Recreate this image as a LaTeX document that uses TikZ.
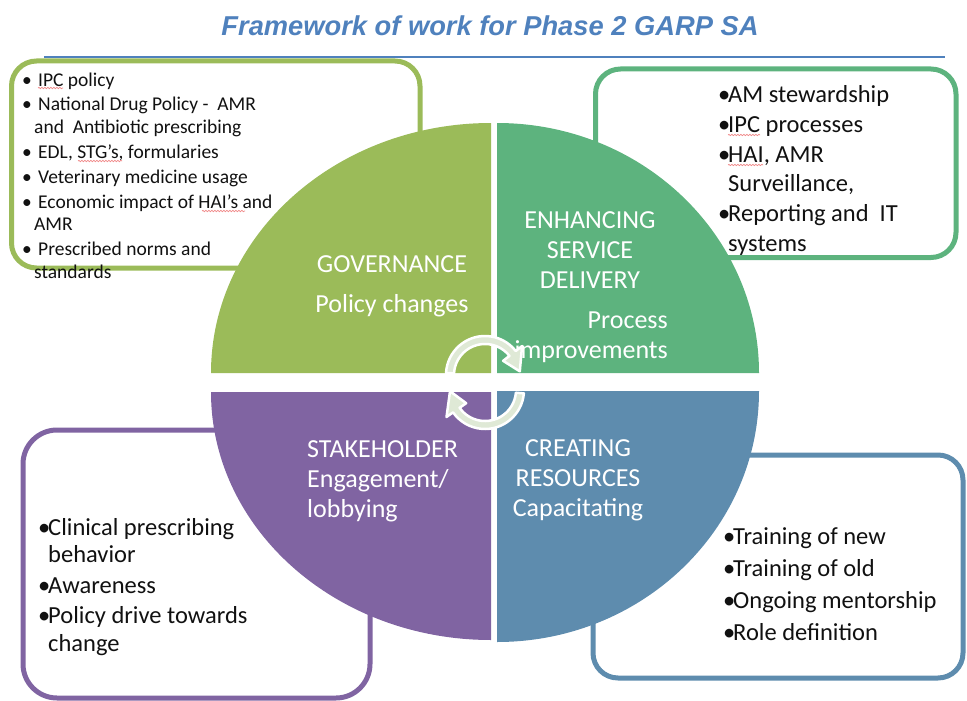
\documentclass[tikz,border=0pt]{standalone}
\usepackage{fontspec}
\setmainfont{Carlito}
\newfontfamily\titlefont{Liberation Sans}
\usetikzlibrary{calc,decorations.pathmorphing}
\definecolor{govgreen}{HTML}{9BBB59}
\definecolor{servgreen}{HTML}{5DB37E}
\definecolor{stakepurple}{HTML}{8064A2}
\definecolor{resblue}{HTML}{5E8CAE}
\definecolor{titleblue}{HTML}{4F81BD}
\definecolor{cyclefill}{HTML}{DFE9D6}
\definecolor{ink}{HTML}{111111}
\definecolor{squiggle}{HTML}{F08A8A}
\newcommand\smallbul{\makebox[16pt][l]{\textbullet}}
\newcommand\bigbul{\makebox[10pt][l]{\textbullet}}
\begin{document}
\begin{tikzpicture}[x=1pt,y=-1pt,
  box/.style={line width=5pt, rounded corners=#1},
  box/.default=25pt,
  qlabel/.style={text=white, font=\fontsize{26}{30}\selectfont, inner sep=0pt},
  biglist/.style={text=ink, align=left, inner sep=0pt, anchor=base west},
  smalllist/.style={text=ink, font=\fontsize{19.5}{22.5}\selectfont, align=left, inner sep=0pt, anchor=base west},
  cyclearrow/.style={fill=cyclefill, draw=white, line width=2.5pt, line join=round},
  spellmark/.style={squiggle, line width=0.7pt, decorate,
    decoration={snake, amplitude=0.7pt, segment length=3pt}},
]
\useasboundingbox (0,0) rectangle (967,701);

% heading and rule
\node[font=\titlefont\bfseries\itshape\fontsize{27.3}{32}\selectfont, text=titleblue,
      anchor=base, inner sep=0pt] (title) at (490,36) {Framework of work for Phase 2 GARP SA};
\coordinate (ruleL) at (44,57);
\coordinate (ruleR) at (945,57);
\draw[titleblue, line width=2.5pt] (ruleL) -- (ruleR);

% outlined boxes behind the circle
\draw[box, govgreen] (11.5,61) rectangle (420,268);
\draw[box, servgreen] (595.5,69) rectangle (956,257.5);
\draw[box=34pt, stakepurple] (23,430) rectangle (370,698);
\draw[box, resblue] (593,455) rectangle (963,678);

% the four quadrants
\coordinate (qgov) at (491,373);
\coordinate (qserv) at (497,373);
\coordinate (qstake) at (491,392);
\coordinate (qres) at (497,391);
\fill[govgreen] (qgov) -- ++(-280,0) arc[start angle=180, end angle=270, x radius=280, y radius=250] -- cycle;
\fill[servgreen] (qserv) -- ++(0,-250) arc[start angle=270, end angle=360, x radius=262, y radius=250] -- cycle;
\fill[stakepurple] (qstake) -- ++(-280,0) arc[start angle=180, end angle=90, x radius=280, y radius=248] -- cycle;
\fill[resblue] (qres) -- ++(262,0) arc[start angle=0, end angle=90, x radius=262, y radius=251] -- cycle;

% quadrant captions (anchored on the baseline of their last line)
\node[qlabel, align=center, anchor=base] (govlabel) at (392,312) {GOVERNANCE\\[10pt]Policy changes};
\node[qlabel, align=center, anchor=base] (servlabel) at (590,288) {ENHANCING\\SERVICE\\DELIVERY};
\node[qlabel, align=right, anchor=base east] (servsub) at (668,358) {Process\\improvements};
\node[qlabel, align=left, anchor=base west] (stakelabel) at (307,517) {STAKEHOLDER\\Engagement/\\lobbying};
\node[qlabel, align=center, anchor=base] (reslabel) at (578,516) {CREATING\\RESOURCES\\Capacitating};

% cycle arrows in the middle
\coordinate (c1) at (485,375);
\coordinate (c2) at (485,390);
\filldraw[cyclearrow] ($(c1)+(183:39)$) arc[start angle=183, end angle=322, radius=39]
  -- ($(c1)+(322:47)$) -- ($(c1)+(354:35)$) -- ($(c1)+(322:23)$)
  -- ($(c1)+(322:31)$) arc[start angle=322, end angle=183, radius=31] -- cycle;
\filldraw[cyclearrow] ($(c2)+(5:39)$) arc[start angle=5, end angle=145, radius=39]
  -- ($(c2)+(145:47)$) -- ($(c2)+(178:35)$) -- ($(c2)+(145:23)$)
  -- ($(c2)+(145:31)$) arc[start angle=145, end angle=5, radius=31] -- cycle;

% bullet lists (anchored on the baseline of their last line)
\node[smalllist] (govlist) at (22,278) {%
\smallbul IPC policy\\[2.4pt]
\smallbul National Drug Policy - \ AMR\\
\hspace*{12pt}and \ Antibiotic prescribing\\[2.4pt]
\smallbul EDL, STG’s, formularies\\[2.4pt]
\smallbul Veterinary medicine usage\\[2.4pt]
\smallbul Economic impact of HAI’s and\\
\hspace*{12pt}AMR\\[2.4pt]
\smallbul Prescribed norms and\\
\hspace*{12pt}standards};

\node[biglist, font=\fontsize{24.5}{29.8}\selectfont] (servlist) at (718,251.5) {%
\bigbul AM stewardship\\
\bigbul IPC processes\\
\bigbul HAI, AMR\\
\hspace*{10pt}Surveillance,\\
\bigbul Reporting and \ IT\\
\hspace*{10pt}systems};

\node[biglist, font=\fontsize{24.5}{27.5}\selectfont] (stakelist) at (38,651) {%
\bigbul Clinical prescribing\\
\hspace*{10pt}behavior\\[3pt]
\bigbul Awareness\\[3pt]
\bigbul Policy drive towards\\
\hspace*{10pt}change};

\node[biglist, font=\fontsize{24.5}{31.7}\selectfont] (reslist) at (723,640) {%
\bigbul Training of new\\
\bigbul Training of old\\
\bigbul Ongoing mentorship\\
\bigbul Role definition};

% spelling marks under abbreviations
\draw[spellmark] (38,88) -- (63,88);
\draw[spellmark] (78,161) -- (122,161);
\draw[spellmark] (202,211) -- (245,211);
\draw[spellmark] (728,135) -- (760,135);
\draw[spellmark] (728,165) -- (763,165);
\end{tikzpicture}
\end{document}
